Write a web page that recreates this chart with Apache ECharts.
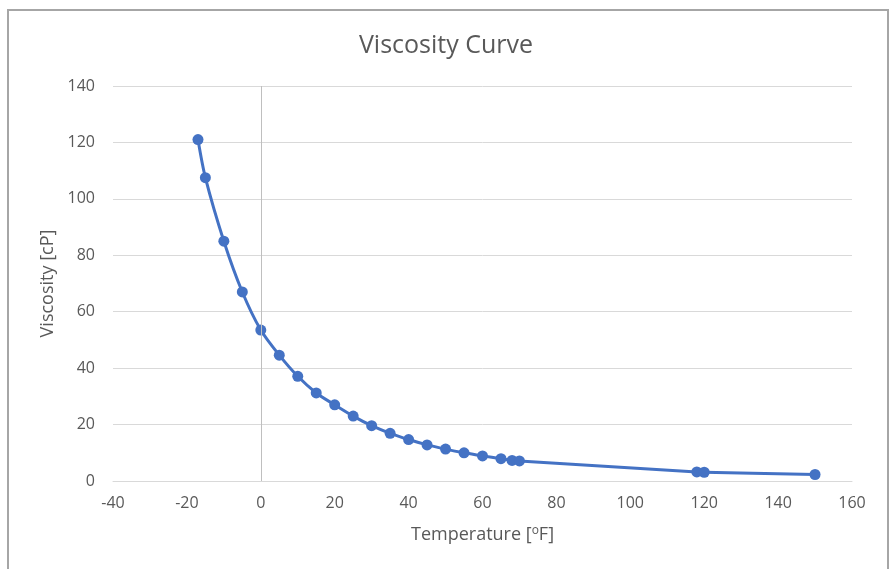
<!DOCTYPE html>
<html>
<head>
<meta charset="utf-8">
<script src="https://cdn.jsdelivr.net/npm/echarts@6/dist/echarts.min.js"></script>
<style>
  html, body { margin: 0; padding: 0; background: #fff; }
  #frame { position: absolute; left: 7px; top: 9px; width: 882px; height: 580px; border: 2px solid #a6a6a6; box-sizing: border-box; }
  #chart { width: 892px; height: 569px; position: absolute; left: 0; top: 0; }
</style>
</head>
<body>
<div id="frame"></div>
<div id="chart"></div>
<script>
// temperature [F] and viscosity [cP]
const temps = [-17, -15, -10, -5, 0, 5, 10, 15, 20, 25, 30, 35, 40, 45, 50, 55, 60, 65, 68, 70, 118, 120, 150]
const visc = [121, 107.5, 85, 67, 53.5, 44.6, 37.1, 31.2, 27, 23, 19.6, 16.9, 14.7, 12.8, 11.3, 10, 8.9, 7.9, 7.3, 7.1, 3.2, 3.1, 2.3]

const axisFont = { color: '#595959', fontSize: 16, fontFamily: 'Open Sans' }

const chart = echarts.init(document.getElementById('chart'))
chart.setOption({
  animation: false,
  title: {
    text: 'Viscosity Curve',
    left: 'center',
    top: 28,
    textStyle: { color: '#595959', fontSize: 25, fontWeight: 'normal', fontFamily: 'Open Sans' }
  },
  grid: { left: 113, right: 40, top: 86, bottom: 88 },
  xAxis: {
    type: 'value',
    min: -40,
    max: 160,
    interval: 20,
    name: '{n|Temperature [}{s|o}{n|F]}',
    nameLocation: 'middle',
    nameGap: 44,
    nameTextStyle: {
      rich: {
        n: { color: '#595959', fontSize: 18, fontFamily: 'Open Sans' },
        s: { color: '#595959', fontSize: 12, fontFamily: 'Open Sans', verticalAlign: 'top', padding: [0, 0, 8, 0] }
      }
    },
    axisLine: { onZero: false, lineStyle: { color: '#d9d9d9' } },
    axisTick: { show: false },
    splitLine: { show: false },
    axisLabel: Object.assign({ margin: 14 }, axisFont)
  },
  yAxis: {
    type: 'value',
    min: 0,
    max: 140,
    interval: 20,
    name: 'Viscosity [cP]',
    nameLocation: 'middle',
    nameGap: 56,
    nameTextStyle: { color: '#595959', fontSize: 18, fontFamily: 'Open Sans' },
    axisLine: { show: false },
    axisTick: { show: false },
    splitLine: { lineStyle: { color: '#d9d9d9', width: 1 } },
    axisLabel: Object.assign({ margin: 18 }, axisFont)
  },
  series: [{
    type: 'line',
    data: temps.map((t, i) => [t, visc[i]]),
    smooth: 0.3,
    symbol: 'circle',
    symbolSize: 11,
    lineStyle: { color: '#4472c4', width: 3 },
    itemStyle: { color: '#4472c4' },
    markLine: {
      silent: true,
      symbol: 'none',
      label: { show: false },
      lineStyle: { color: '#bfbfbf', type: 'solid', width: 1 },
      data: [{ xAxis: 0 }]
    },
    z: 3
  }]
})
</script>
</body>
</html>
